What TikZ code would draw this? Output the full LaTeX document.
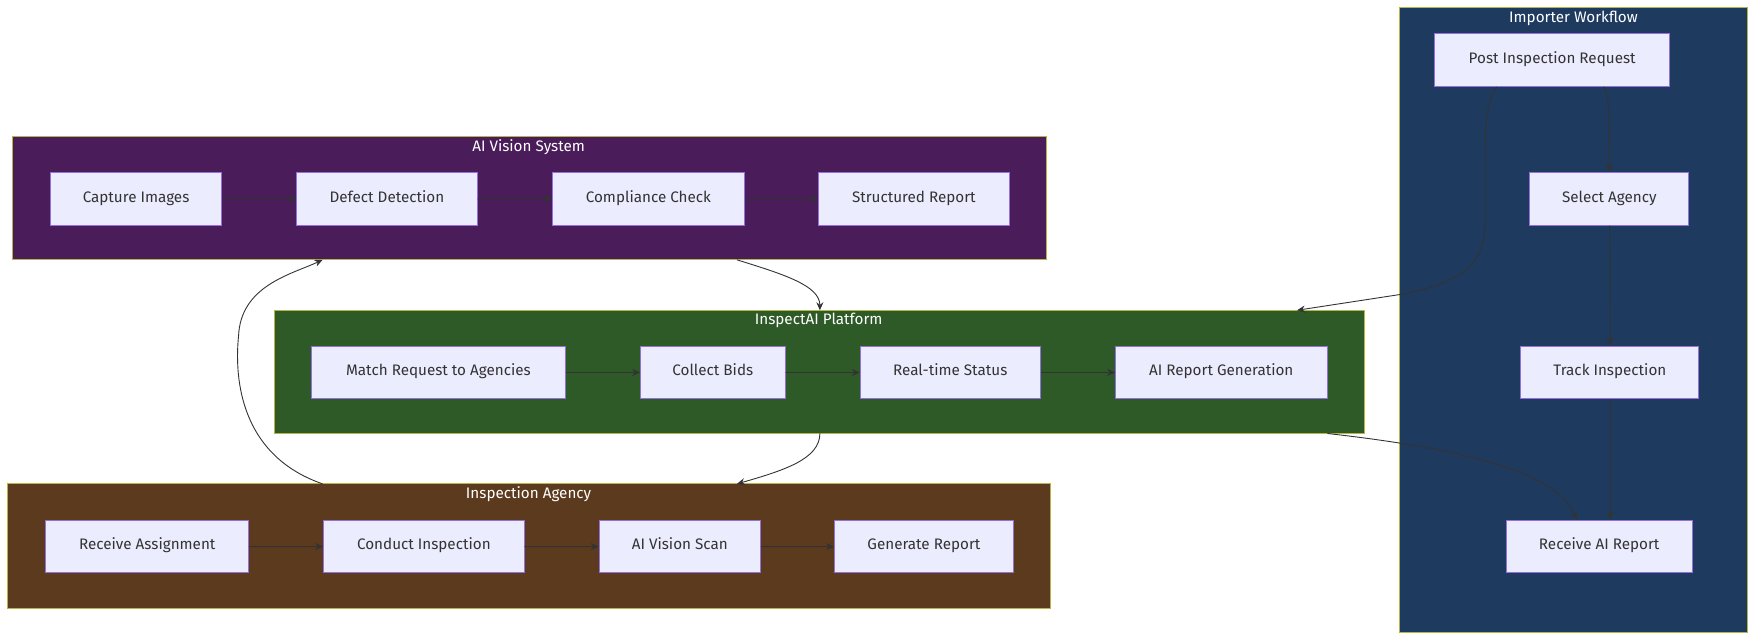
\documentclass[tikz,border=0pt]{standalone}
\usepackage{fontspec}
\setmainfont{Fira Sans}
\usetikzlibrary{positioning,arrows.meta}
\definecolor{vision}{HTML}{4A1C5A}
\definecolor{platform}{HTML}{2D5A27}
\definecolor{agency}{HTML}{5C3A1E}
\definecolor{importer}{HTML}{1E3A5F}
\definecolor{nodefill}{HTML}{ECECFF}
\definecolor{nodeline}{HTML}{9370DB}
\definecolor{boxline}{HTML}{B5B54A}
\definecolor{edge}{HTML}{333333}
\tikzset{
  stage/.style={draw=nodeline, fill=nodefill, line width=0.9pt, minimum height=47pt, inner sep=0pt, text=black!80, text height=1.6ex, text depth=0.45ex, font=\fontsize{13.6}{15}\selectfont},
  group/.style={draw=boxline, line width=0.9pt},
  title/.style={text=white, text height=1.6ex, text depth=0.45ex, font=\fontsize{13.6}{15}\selectfont, inner sep=0pt},
  flow/.style={draw=edge, line width=0.9pt, -{Stealth[length=8pt,width=7pt]}}
}
\begin{document}
\begin{tikzpicture}[x=1pt,y=-1pt,scale=1.12,transform shape]
\useasboundingbox (0,0) rectangle (1568,573);
% subgraph boxes
\fill[importer] (1250,7) rectangle (1560,565);
\draw[group] (1250,7) rectangle (1560,565);
\node[title] (impT) at (1405,17) {Importer Workflow};
\fill[vision] (11,122) rectangle (934,232);
\draw[group] (11,122) rectangle (934,232);
\node[title] (visT) at (472,132) {AI Vision System};
\fill[platform] (245,277) rectangle (1218,387);
\draw[group] (245,277) rectangle (1218,387);
\node[title] (platT) at (731,287) {InspectAI Platform};
\fill[agency] (7,432) rectangle (938,543);
\draw[group] (7,432) rectangle (938,543);
\node[title] (agT) at (472,442) {Inspection Agency};
\coordinate (visBot) at (658,232);
\coordinate (visIn) at (288,232);
\coordinate (platTop) at (732,277);
\coordinate (platTopR) at (1158,277);
\coordinate (platBot) at (732,387);
\coordinate (platBotR) at (1185,387);
\coordinate (agTop) at (658,432);
\coordinate (agTopL) at (288,432);
% importer
\node[stage, minimum width=210pt] (post) at (1386,53.5) {Post Inspection Request};
\node[stage, minimum width=142pt] (select) at (1437,177.5) {Select Agency};
\node[stage, minimum width=159pt] (track) at (1437.5,332.5) {Track Inspection};
\node[stage, minimum width=166pt] (receive) at (1428,488) {Receive AI Report};
% vision
\node[stage, minimum width=153pt] (capture) at (121.5,177.5) {Capture Images};
\node[stage, minimum width=161pt] (defect) at (345.5,177.5) {Defect Detection};
\node[stage, minimum width=172pt] (comply) at (579,177.5) {Compliance Check};
\node[stage, minimum width=170pt] (struct) at (816,177.5) {Structured Report};
% platform
\node[stage, minimum width=227pt] (match) at (391.5,332.5) {Match Request to Agencies};
\node[stage, minimum width=129pt] (bids) at (636.5,332.5) {Collect Bids};
\node[stage, minimum width=161pt] (status) at (848.5,332.5) {Real-time Status};
\node[stage, minimum width=189pt] (aigen) at (1090.5,332.5) {AI Report Generation};
% agency
\node[stage, minimum width=181pt] (assign) at (131.5,488) {Receive Assignment};
\node[stage, minimum width=179pt] (conduct) at (378.5,488) {Conduct Inspection};
\node[stage, minimum width=144pt] (scan) at (607,488) {AI Vision Scan};
\node[stage, minimum width=160pt] (genrep) at (825,488) {Generate Report};
% edges inside groups
\draw[flow] (capture) -- (defect);
\draw[flow] (defect) -- (comply);
\draw[flow] (comply) -- (struct);
\draw[flow] (match) -- (bids);
\draw[flow] (bids) -- (status);
\draw[flow] (status) -- (aigen);
\draw[flow] (assign) -- (conduct);
\draw[flow] (conduct) -- (scan);
\draw[flow] (scan) -- (genrep);
\draw[flow] ([xshift=46pt]post.south) .. controls (1437,90) and (1437,100) .. (1437,110) -- (select.north);
\draw[flow] (select) -- (track);
\draw[flow] (track.south) -- (receive.north -| track.south);
% edges between groups
\draw[flow] ([xshift=-50pt]post.south) .. controls (1325,95) and (1326,120) .. (1326,160)
  -- (1326,200) .. controls (1326,245) and (1290,255) .. (1250,263) -- (platTopR);
\draw[flow] (visBot) .. controls (700,245) and (732,255) .. (platTop);
\draw[flow] (platBot) .. controls (732,410) and (700,420) .. (agTop);
\draw[flow] (agTopL) .. controls (210,405) and (210,330) .. (213,300)
  .. controls (215,255) and (260,245) .. (visIn);
\draw[flow] (platBotR) .. controls (1300,400) and (1390,420) .. (1408,464);
\end{tikzpicture}
\end{document}
